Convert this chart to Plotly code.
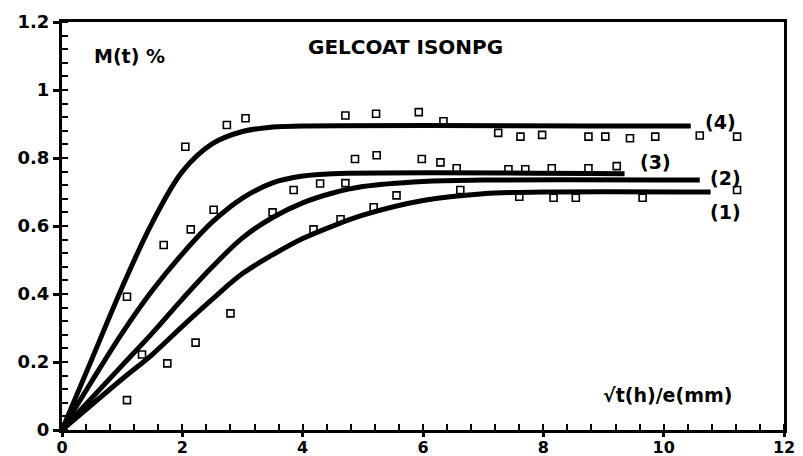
import plotly.graph_objects as go

# ---- fitted curves ----
c4_x = [0, 0.5, 1.0, 1.5, 2.0, 2.5, 3.0, 3.5, 4.0, 10.45]
c4_y = [0, 0.21, 0.42, 0.61, 0.76, 0.842, 0.878, 0.891, 0.894, 0.894]

c3_x = [0, 0.5, 1.0, 1.5, 2.0, 2.5, 3.0, 3.5, 4.0, 4.5, 9.35]
c3_y = [0, 0.145, 0.285, 0.41, 0.518, 0.612, 0.682, 0.727, 0.747, 0.754, 0.754]

c2_x = [0, 1.0, 1.5, 2.0, 2.5, 3.0, 3.5, 4.0, 4.5, 5.0, 6.0, 7.0, 10.6]
c2_y = [0, 0.19, 0.285, 0.385, 0.48, 0.565, 0.625, 0.668, 0.697, 0.716, 0.731, 0.735, 0.735]

c1_x = [0, 1.0, 1.5, 2.0, 2.5, 3.0, 3.5, 4.0, 4.5, 5.0, 6.0, 7.0, 8.0, 10.78]
c1_y = [0, 0.15, 0.222, 0.305, 0.385, 0.46, 0.515, 0.563, 0.60, 0.632, 0.675, 0.695, 0.70, 0.70]

# ---- measured points ----
p4_x = [1.08, 2.05, 2.74, 3.05, 4.71, 5.22, 5.93, 6.34, 7.25, 7.62, 7.98, 8.75, 9.03, 9.44, 9.86, 10.6, 11.22]
p4_y = [0.392, 0.833, 0.897, 0.917, 0.925, 0.93, 0.935, 0.908, 0.874, 0.863, 0.868, 0.863, 0.863, 0.858, 0.863, 0.866, 0.863]

p3_x = [1.69, 2.14, 2.52, 3.85, 4.29, 4.71, 4.87, 5.23, 5.98, 6.29, 6.56, 7.42, 7.70, 8.14, 8.75, 9.22]
p3_y = [0.544, 0.59, 0.648, 0.706, 0.725, 0.726, 0.797, 0.808, 0.797, 0.787, 0.77, 0.767, 0.767, 0.77, 0.77, 0.776]

p2_x = [1.33, 3.5, 5.56, 6.62]
p2_y = [0.222, 0.64, 0.69, 0.706]

p1_x = [1.08, 1.75, 2.22, 2.80, 4.18, 4.63, 5.18, 7.6, 8.17, 8.54, 9.65, 11.22]
p1_y = [0.088, 0.196, 0.257, 0.343, 0.59, 0.62, 0.655, 0.686, 0.683, 0.683, 0.683, 0.706]

x_ticks = [0, 2, 4, 6, 8, 10, 12]
x_tick_text = ["0", "2", "4", "6", "8", "10", "12"]
y_ticks = [0, 0.2, 0.4, 0.6, 0.8, 1.0, 1.2]
y_tick_text = ["0", "0.2", "0.4", "0.6", "0.8", "1", "1.2"]

x_minor = [round(i * 0.4, 2) for i in range(31)]
y_minor = [round(i * 0.04, 2) for i in range(31)]

FONT = "DejaVu Sans"

fig = go.Figure()
for cx, cy in [(c4_x, c4_y), (c3_x, c3_y), (c2_x, c2_y), (c1_x, c1_y)]:
    fig.add_trace(go.Scatter(x=cx, y=cy, mode="lines",
                             line=dict(color="black", width=5, shape="spline", smoothing=1.0),
                             showlegend=False, hoverinfo="skip"))
for px, py in [(p4_x, p4_y), (p3_x, p3_y), (p2_x, p2_y), (p1_x, p1_y)]:
    fig.add_trace(go.Scatter(x=px, y=py, mode="markers",
                             marker=dict(symbol="square-open", size=7, color="black",
                                         line=dict(width=1.6, color="black")),
                             showlegend=False))

lbl_font = dict(family=FONT, size=19, color="black", weight="bold")
annotations = [
    dict(x=5.71, y=1.126, text="GELCOAT ISONPG", font=dict(family=FONT, size=20, color="black", weight="bold")),
    dict(x=1.12, y=1.10, text="M(t) %"),
    dict(x=10.07, y=0.103, text="√t(h)/e(mm)"),
    dict(x=10.94, y=0.906, text="(4)"),
    dict(x=9.86, y=0.788, text="(3)"),
    dict(x=11.02, y=0.741, text="(2)"),
    dict(x=11.02, y=0.641, text="(1)"),
]
for a in annotations:
    a.setdefault("font", lbl_font)
    a.update(xref="x", yref="y", showarrow=False, xanchor="center", yanchor="middle")

axis_common = dict(
    showgrid=False, zeroline=False, showline=True, linecolor="black", linewidth=3,
    mirror=True, ticks="outside", tickwidth=2.5, tickcolor="black",
    automargin=False,
)

# page body has an 8px margin, so the figure is sized/offset to compensate
fig.update_layout(
    width=795, height=448,
    margin=dict(l=54, r=19, t=14, b=26),
    paper_bgcolor="white", plot_bgcolor="white",
    xaxis=dict(range=[0, 12], tickmode="array", tickvals=x_ticks, ticktext=x_tick_text,
               ticklen=4, ticklabelstandoff=-3,
               tickfont=dict(family=FONT, size=16, color="black", weight="bold"),
               minor=dict(tickmode="array", tickvals=x_minor, ticks="inside", ticklen=6,
                          tickwidth=1.5, tickcolor="black"),
               **axis_common),
    yaxis=dict(range=[0, 1.2], tickmode="array", tickvals=y_ticks, ticktext=y_tick_text,
               ticklen=6,
               tickfont=dict(family=FONT, size=18, color="black", weight="bold"),
               minor=dict(tickmode="array", tickvals=y_minor, ticks="inside", ticklen=6,
                          tickwidth=1.5, tickcolor="black"),
               **axis_common),
    annotations=annotations,
)

fig.write_html("out.html")
